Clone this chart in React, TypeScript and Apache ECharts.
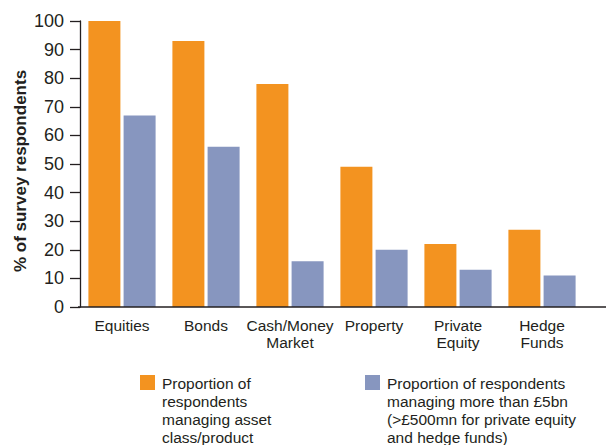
import React, { useEffect, useRef } from "react";
import * as echarts from "echarts";

const categories = ["Equities", "Bonds", "Cash/Money\nMarket", "Property", "Private\nEquity", "Hedge\nFunds"];
const assetClassValues = [100, 93, 78, 49, 22, 27];
const largeManagerValues = [67, 56, 16, 20, 13, 11];
const seriesNames = [
  "Proportion of\nrespondents\nmanaging asset\nclass/product",
  "Proportion of respondents\nmanaging more than £5bn\n(>£500mn for private equity\nand hedge funds)",
];
const yAxisTitle = "% of survey respondents";

const ORANGE = "#F39320";
const BLUE = "#8796BF";
const INK = "#231F20";
const FONT = "'Liberation Sans', Arial, Helvetica, sans-serif";

export default function App() {
  const ref = useRef<HTMLDivElement>(null);
  useEffect(() => {
    if (!ref.current) return;
    const chart = echarts.init(ref.current, undefined, { renderer: "svg" });
    chart.setOption({
      animation: false,
      textStyle: { fontFamily: FONT },
      grid: { left: 80, top: 21, width: 504, height: 286, containLabel: false },
      xAxis: {
        type: "category",
        data: categories,
        axisLine: { show: false },
        axisTick: { show: false },
        axisLabel: {
          interval: 0,
          color: INK,
          fontSize: 15.5,
          margin: 10,
          lineHeight: 17,
          fontFamily: FONT,
          hideOverlap: false,
        },
      },
      yAxis: {
        type: "value",
        min: 0,
        max: 100,
        interval: 10,
        axisLine: { show: true, lineStyle: { color: INK, width: 1.3 } },
        axisTick: { show: true, length: 10, lineStyle: { color: INK, width: 1.3 } },
        axisLabel: { color: INK, fontSize: 18, margin: 16, fontFamily: FONT },
        splitLine: { show: false },
      },
      series: [
        {
          name: seriesNames[0],
          type: "bar",
          data: assetClassValues,
          barWidth: 32,
          barGap: "10%",
          itemStyle: { color: ORANGE },
        },
        {
          name: seriesNames[1],
          type: "bar",
          data: largeManagerValues,
          barWidth: 32,
          barGap: "10%",
          itemStyle: { color: BLUE },
        },
      ],
      graphic: [
        {
          type: "line",
          shape: { x1: 78, y1: 307, x2: 606, y2: 307 },
          style: { stroke: INK, lineWidth: 1.5 },
          z: 10,
        },
        {
          type: "text",
          x: 20,
          y: 171,
          rotation: Math.PI / 2,
          style: {
            text: yAxisTitle,
            font: `bold 17px ${FONT}`,
            fill: INK,
            textAlign: "center",
            textVerticalAlign: "middle",
          },
        },
        { type: "rect", shape: { x: 140, y: 375, width: 15, height: 15 }, style: { fill: ORANGE } },
        {
          type: "text",
          x: 162,
          y: 374,
          style: {
            text: seriesNames[0],
            font: `15.5px ${FONT}`,
            fill: INK,
            lineHeight: 18,
            textAlign: "left",
            textVerticalAlign: "top",
          },
        },
        { type: "rect", shape: { x: 365, y: 375, width: 15, height: 15 }, style: { fill: BLUE } },
        {
          type: "text",
          x: 387,
          y: 374,
          style: {
            text: seriesNames[1],
            font: `15.5px ${FONT}`,
            fill: INK,
            lineHeight: 18,
            textAlign: "left",
            textVerticalAlign: "top",
          },
        },
      ],
    });
    return () => chart.dispose();
  }, []);
  return (
    <div
      ref={ref}
      style={{ position: "fixed", left: 0, top: 0, width: 606, height: 445, background: "#fff" }}
    />
  );
}
